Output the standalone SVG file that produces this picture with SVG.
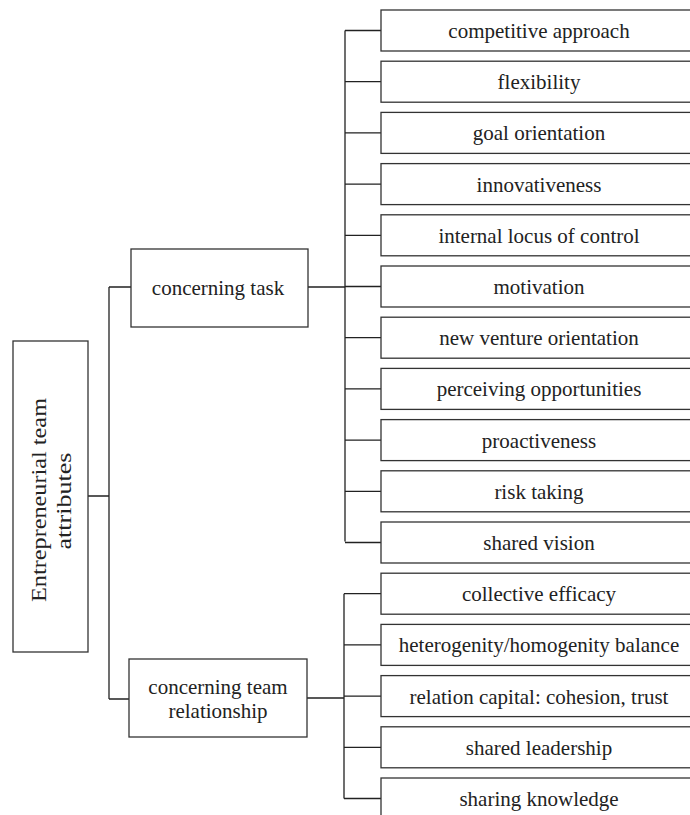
<svg xmlns="http://www.w3.org/2000/svg" width="690" height="815" viewBox="0 0 690 815">
<style>
.box{fill:#fff;stroke:#333;stroke-width:1.3}
.t{font-family:"Liberation Serif","Times New Roman",serif;font-size:21px;fill:#222;text-anchor:middle}
.m{font-size:22px}
.c{fill:none;stroke:#222;stroke-width:1.3}
</style>
<rect width="690" height="815" fill="#fff"/>
<g id="connectors">
<path class="c" d="M88,496H109M109,287V699M109,287H131M109,699H129"/>
<path class="c" d="M308,287H345M345,30.5V541.5M345,30.5H381M345,81.7H381M345,132.9H381M345,184.1H381M345,235.3H381M345,286.5H381M345,337.7H381M345,388.9H381M345,440.1H381M345,491.3H381M345,542.5H381"/>
<path class="c" d="M307,698H344M344,593.7V798.5M344,593.7H381M344,644.9H381M344,696.1H381M344,747.3H381M344,798.5H381"/>
</g>
<g id="root">
<rect class="box" x="13" y="341" width="75" height="311"/>
<text class="t m" transform="translate(46,500) rotate(-90)" x="0" y="0" textLength="204" lengthAdjust="spacingAndGlyphs">Entrepreneurial team</text>
<text class="t m" transform="translate(71,501) rotate(-90)" x="0" y="0" textLength="97" lengthAdjust="spacingAndGlyphs">attributes</text>
</g>
<g id="task">
<rect class="box" x="131" y="249" width="177" height="78"/>
<text class="t" x="218" y="295">concerning task</text>
</g>
<g id="relationship">
<rect class="box" x="129" y="659" width="178" height="78"/>
<text class="t" x="218" y="694">concerning team</text>
<text class="t" x="218" y="718">relationship</text>
</g>
<g id="t1"><rect class="box" x="381" y="10" width="312" height="41"/><text class="t" x="539" y="38">competitive approach</text></g>
<g id="t2"><rect class="box" x="381" y="61.2" width="312" height="41"/><text class="t" x="539" y="89.2">flexibility</text></g>
<g id="t3"><rect class="box" x="381" y="112.4" width="312" height="41"/><text class="t" x="539" y="140.4">goal orientation</text></g>
<g id="t4"><rect class="box" x="381" y="163.6" width="312" height="41"/><text class="t" x="539" y="191.6">innovativeness</text></g>
<g id="t5"><rect class="box" x="381" y="214.8" width="312" height="41"/><text class="t" x="539" y="242.8">internal locus of control</text></g>
<g id="t6"><rect class="box" x="381" y="266" width="312" height="41"/><text class="t" x="539" y="294">motivation</text></g>
<g id="t7"><rect class="box" x="381" y="317.2" width="312" height="41"/><text class="t" x="539" y="345.2">new venture orientation</text></g>
<g id="t8"><rect class="box" x="381" y="368.4" width="312" height="41"/><text class="t" x="539" y="396.4">perceiving opportunities</text></g>
<g id="t9"><rect class="box" x="381" y="419.6" width="312" height="41"/><text class="t" x="539" y="447.6">proactiveness</text></g>
<g id="t10"><rect class="box" x="381" y="470.8" width="312" height="41"/><text class="t" x="539" y="498.8">risk taking</text></g>
<g id="t11"><rect class="box" x="381" y="522" width="312" height="41"/><text class="t" x="539" y="550">shared vision</text></g>
<g id="r1"><rect class="box" x="381" y="573.2" width="312" height="41"/><text class="t" x="539" y="601.2">collective efficacy</text></g>
<g id="r2"><rect class="box" x="381" y="624.4" width="312" height="41"/><text class="t" x="539" y="652.4">heterogenity/homogenity balance</text></g>
<g id="r3"><rect class="box" x="381" y="675.6" width="312" height="41"/><text class="t" x="539" y="703.6">relation capital: cohesion, trust</text></g>
<g id="r4"><rect class="box" x="381" y="726.8" width="312" height="41"/><text class="t" x="539" y="754.8">shared leadership</text></g>
<g id="r5"><rect class="box" x="381" y="778" width="312" height="41"/><text class="t" x="539" y="806">sharing knowledge</text></g>
</svg>
